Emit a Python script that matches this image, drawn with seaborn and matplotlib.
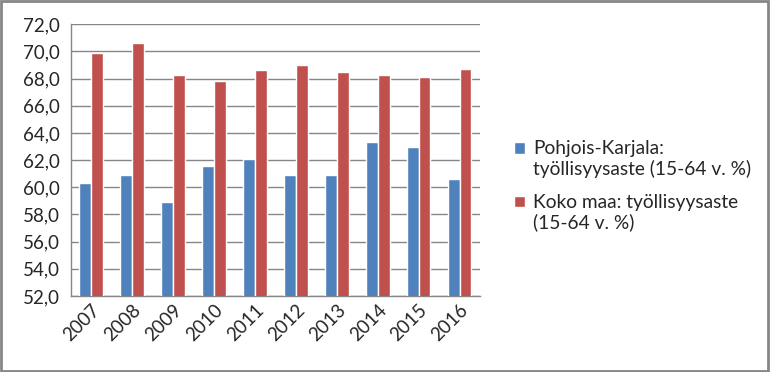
import pandas as pd
import matplotlib
matplotlib.use("Agg")
import matplotlib.pyplot as plt
import seaborn as sns
from matplotlib.ticker import FuncFormatter, MultipleLocator, FixedLocator
from matplotlib.patches import Rectangle
from matplotlib.legend_handler import HandlerPatch

# Data
years = ["2007", "2008", "2009", "2010", "2011", "2012", "2013", "2014", "2015", "2016"]
pohjois_karjala = [60.3, 60.9, 58.9, 61.6, 62.1, 60.9, 60.9, 63.3, 63.0, 60.6]
koko_maa = [69.9, 70.6, 68.3, 67.8, 68.6, 69.0, 68.5, 68.3, 68.1, 68.7]
series_names = ["Pohjois-Karjala:\ntyöllisyysaste (15-64 v. %)",
                "Koko maa: työllisyysaste\n(15-64 v. %)"]
colors = ["#4F81BD", "#C0504D"]

df = pd.DataFrame({
    "year": years * 2,
    "value": pohjois_karjala + koko_maa,
    "series": [series_names[0]] * len(years) + [series_names[1]] * len(years),
})

sns.set_style("white")
plt.rcParams["font.family"] = ["Lato", "DejaVu Sans"]

fig = plt.figure(figsize=(7.7, 3.72), dpi=100)
ax = fig.add_axes([70.7 / 770, 1 - 296 / 372, (480 - 70.7) / 770, (296 - 24.3) / 372])

sns.barplot(data=df, x="year", y="value", hue="series", palette=colors,
            width=0.58, saturation=1, ax=ax, zorder=3)

ax.set_ylim(52, 72)
ax.set_xlim(-0.5, len(years) - 0.5)
ax.yaxis.set_major_locator(MultipleLocator(2))
ax.yaxis.set_major_formatter(FuncFormatter(lambda v, p: f"{v:.1f}".replace(".", ",")))
ax.grid(axis="y", color="#868686", linewidth=1, zorder=0)
ax.set_xlabel("")
ax.set_ylabel("")

for s in ["top", "right"]:
    ax.spines[s].set_visible(False)
for s in ["left", "bottom"]:
    ax.spines[s].set_color("#868686")
    ax.spines[s].set_linewidth(1)

ax.tick_params(axis="y", which="major", length=5, color="#868686", direction="out",
               labelsize=13.5, pad=3)
ax.tick_params(axis="x", which="major", length=0, labelsize=13.5, pad=4)
ax.xaxis.set_minor_locator(FixedLocator([i - 0.5 for i in range(len(years) + 1)]))
ax.tick_params(axis="x", which="minor", length=5, color="#868686", direction="out")
plt.setp(ax.get_xticklabels(), rotation=45, ha="right", rotation_mode="anchor")


# legend squares sit next to the first line of each label
def top_square(legend, orig_handle, xdescent, ydescent, width, height, fontsize):
    return Rectangle((-xdescent, -ydescent + 0.6 * fontsize), width, height)


handles, labels = ax.get_legend_handles_labels()
ax.legend(handles, labels, loc="center left", bbox_to_anchor=(497 / 770, 186 / 372),
          bbox_transform=fig.transFigure, frameon=False, fontsize=13.8,
          handlelength=0.55, handleheight=0.55, handletextpad=0.45, labelspacing=0.8,
          handler_map={h: HandlerPatch(patch_func=top_square) for h in handles})

fig.patches.append(Rectangle((0.0015, 0.003), 0.996, 0.993, transform=fig.transFigure,
                             fill=False, edgecolor="#868686", linewidth=2))

fig.savefig("out.png", dpi=100)
